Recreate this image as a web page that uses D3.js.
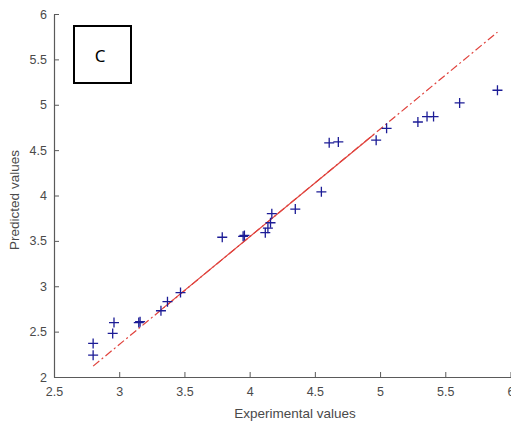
<!DOCTYPE html>
<html>
<head>
<meta charset="utf-8">
<script src="https://cdn.jsdelivr.net/npm/d3@7"></script>
<style>
body { margin: 0; background: #fff; }
</style>
</head>
<body>
<div class="container"></div>
<script>
var expX  = [2.80, 2.80, 2.95, 2.96, 3.15, 3.16, 3.32, 3.37, 3.47,
             3.79, 3.95, 3.96, 4.12, 4.14, 4.16, 4.17, 4.35,
             4.55, 4.61, 4.68, 4.97, 5.05, 5.29, 5.36, 5.41, 5.61, 5.90];
var predY = [2.24, 2.37, 2.48, 2.60, 2.60, 2.61, 2.73, 2.83, 2.93,
             3.54, 3.55, 3.56, 3.59, 3.64, 3.70, 3.80, 3.85,
             4.04, 4.58, 4.59, 4.61, 4.74, 4.81, 4.87, 4.87, 5.02, 5.16];

// fit line, dash-dot over the full range, solid in the middle
var fitX = [2.80, 5.90];
var fitY = [2.12, 5.80];
var solidX = [3.32, 4.95];
var solidY = [2.74, 4.67];

var xTicks = [2.5, 3, 3.5, 4, 4.5, 5, 5.5, 6];
var yTicks = [2, 2.5, 3, 3.5, 4, 4.5, 5, 5.5, 6];
var panelLabel = "C";

var W = 511, H = 424;
// plot area edges (window.top is taken, so prefix them)
var plotL = 54, plotR = 510.5, plotT = 14, plotB = 377;
var axisColor = "#5a5a5a";
var textColor = "#4a4a4a";

//Makes the stage
function makeStage(w, h) {
    return d3.select(".container")
      .append("svg")
      .attr("width", w)
      .attr("height", h)
      .style("background-color", "#ffffff");
}

var stage = makeStage(W, H);

var x = d3.scaleLinear().domain([2.5, 6]).range([plotL, plotR]);
var y = d3.scaleLinear().domain([2, 6]).range([plotB, plotT]);

// axes, ticks pointing inward like matlab
var xAxis = stage.append("g")
  .attr("transform", "translate(0," + plotB + ")")
  .call(d3.axisBottom(x).tickValues(xTicks).tickFormat(d3.format("")).tickSizeInner(-5).tickSizeOuter(0).tickPadding(10));

var yAxis = stage.append("g")
  .attr("transform", "translate(" + plotL + ",0)")
  .call(d3.axisLeft(y).tickValues(yTicks).tickFormat(d3.format("")).tickSizeInner(-5).tickSizeOuter(0).tickPadding(7));

[xAxis, yAxis].forEach(function (g) {
    g.select(".domain").attr("stroke", axisColor).attr("stroke-width", 1.2);
    g.selectAll(".tick line").attr("stroke", axisColor);
    g.selectAll(".tick text")
      .attr("fill", textColor)
      .attr("font-family", "Liberation Sans, Arial, sans-serif")
      .attr("font-size", 12.5);
});

// axis titles
stage.append("text").text("Experimental values")
  .attr("x", 295)
  .attr("y", 418)
  .attr("text-anchor", "middle")
  .attr("font-family", "Liberation Sans, Arial, sans-serif")
  .attr("font-size", 13.5)
  .attr("fill", textColor);

stage.append("text").text("Predicted values")
  .attr("transform", "translate(19,200) rotate(-90)")
  .attr("text-anchor", "middle")
  .attr("font-family", "Liberation Sans, Arial, sans-serif")
  .attr("font-size", 13.5)
  .attr("fill", textColor);

// fit line
var line = d3.line().x(function (d) { return x(d[0]); }).y(function (d) { return y(d[1]); });

stage.append("path")
  .datum(d3.zip(fitX, fitY))
  .attr("d", line)
  .attr("fill", "none")
  .attr("stroke", "#e0423c")
  .attr("stroke-width", 1.2)
  .attr("stroke-dasharray", "8,3,2,3");

stage.append("path")
  .datum(d3.zip(solidX, solidY))
  .attr("d", line)
  .attr("fill", "none")
  .attr("stroke", "#e0423c")
  .attr("stroke-width", 1.2);

// plus markers
var s = 5;
stage.append("g").selectAll("path")
  .data(d3.zip(expX, predY))
  .enter().append("path")
  .attr("d", function (d) {
      var cx = x(d[0]), cy = y(d[1]);
      return "M" + (cx - s) + "," + cy + "H" + (cx + s) + "M" + cx + "," + (cy - s) + "V" + (cy + s);
  })
  .attr("fill", "none")
  .attr("stroke", "#1c1c96")
  .attr("stroke-width", 1.3);

// panel label box
stage.append("rect")
  .attr("x", 74)
  .attr("y", 26)
  .attr("width", 57)
  .attr("height", 57)
  .attr("fill", "#ffffff")
  .attr("stroke", "#000000")
  .attr("stroke-width", 2);

stage.append("text").text(panelLabel)
  .attr("x", 100)
  .attr("y", 62)
  .attr("text-anchor", "middle")
  .attr("font-family", "Noto Sans, Open Sans, sans-serif")
  .attr("font-size", 17)
  .attr("fill", "#000000");
</script>
</body>
</html>
